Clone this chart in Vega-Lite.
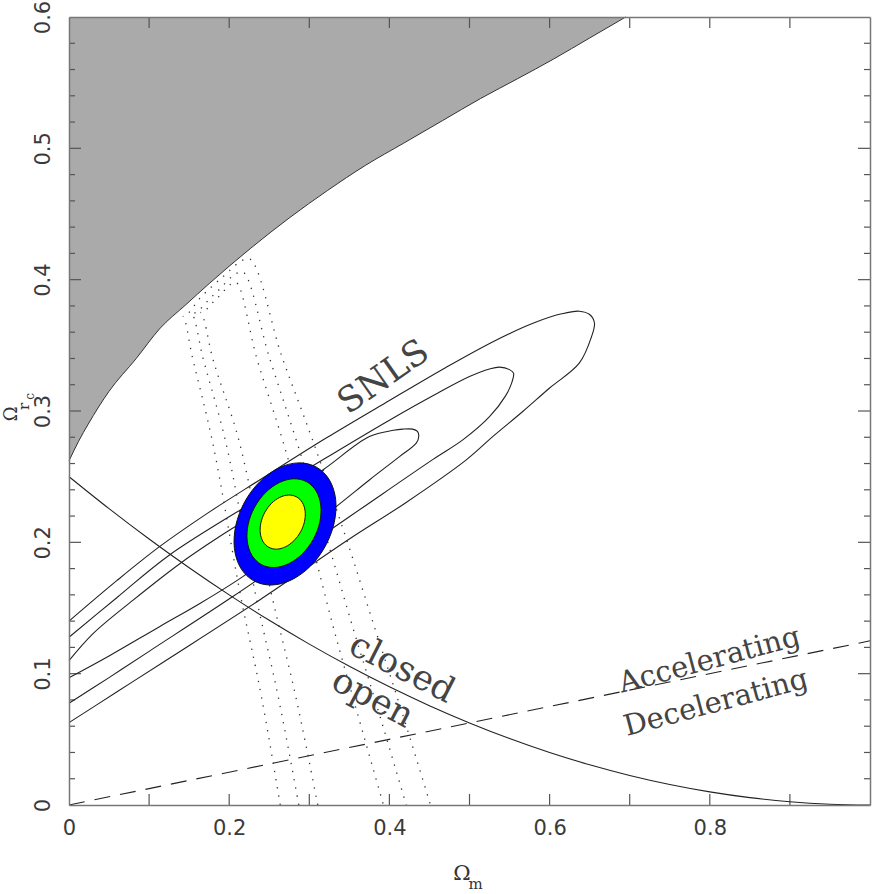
{
  "$schema": "https://vega.github.io/schema/vega-lite/v6.json",
  "width": 801,
  "height": 788,
  "autosize": {"type": "none"},
  "padding": {"left": 69, "top": 17, "right": 2, "bottom": 89},
  "background": "white",
  "config": {"view": {"stroke": null}},
  "datasets": {
    "gray": [
      {"x": 0, "y": 0.262}, {"x": 0.012, "y": 0.277}, {"x": 0.024, "y": 0.29}, {"x": 0.05, "y": 0.315},
      {"x": 0.084, "y": 0.34}, {"x": 0.113, "y": 0.3625}, {"x": 0.146, "y": 0.381}, {"x": 0.175, "y": 0.397},
      {"x": 0.227, "y": 0.424}, {"x": 0.275, "y": 0.447}, {"x": 0.323, "y": 0.468}, {"x": 0.37, "y": 0.487},
      {"x": 0.418, "y": 0.504}, {"x": 0.466, "y": 0.521}, {"x": 0.514, "y": 0.538}, {"x": 0.56, "y": 0.553},
      {"x": 0.605, "y": 0.568}, {"x": 0.65, "y": 0.584}, {"x": 0.695, "y": 0.6}
    ],
    "flat": [
      {"x": 0, "y": 0.25}, {"x": 0.05, "y": 0.225625}, {"x": 0.1, "y": 0.2025}, {"x": 0.15, "y": 0.180625},
      {"x": 0.2, "y": 0.16}, {"x": 0.25, "y": 0.140625}, {"x": 0.3, "y": 0.1225}, {"x": 0.35, "y": 0.105625},
      {"x": 0.4, "y": 0.09}, {"x": 0.45, "y": 0.075625}, {"x": 0.5, "y": 0.0625}, {"x": 0.55, "y": 0.050625},
      {"x": 0.6, "y": 0.04}, {"x": 0.65, "y": 0.030625}, {"x": 0.7, "y": 0.0225}, {"x": 0.75, "y": 0.015625},
      {"x": 0.8, "y": 0.01}, {"x": 0.85, "y": 0.005625}, {"x": 0.9, "y": 0.0025}, {"x": 0.95, "y": 0.000625},
      {"x": 1.0, "y": 0}
    ],
    "accel": [{"x": 0, "y": 0}, {"x": 1, "y": 0.125}],
    "xticks": [{"v": 0.1}, {"v": 0.2}, {"v": 0.3}, {"v": 0.4}, {"v": 0.5}, {"v": 0.6}, {"v": 0.7}, {"v": 0.8}, {"v": 0.9}],
    "ymajor": [{"v": 0.1}, {"v": 0.2}, {"v": 0.3}, {"v": 0.4}, {"v": 0.5}],
    "yminor": [
      {"v": 0.02}, {"v": 0.04}, {"v": 0.06}, {"v": 0.08}, {"v": 0.12}, {"v": 0.14}, {"v": 0.16}, {"v": 0.18},
      {"v": 0.22}, {"v": 0.24}, {"v": 0.26}, {"v": 0.28}, {"v": 0.32}, {"v": 0.34}, {"v": 0.36}, {"v": 0.38},
      {"v": 0.42}, {"v": 0.44}, {"v": 0.46}, {"v": 0.48}, {"v": 0.52}, {"v": 0.54}, {"v": 0.56}, {"v": 0.58}
    ],
    "snls": [
      {"c": 3, "i": 0, "x": 0, "y": 0.14}, {"c": 3, "i": 1, "x": 0.06, "y": 0.171}, {"c": 3, "i": 2, "x": 0.113, "y": 0.1967},
      {"c": 3, "i": 3, "x": 0.175, "y": 0.223}, {"c": 3, "i": 4, "x": 0.238, "y": 0.2475}, {"c": 3, "i": 5, "x": 0.32, "y": 0.279},
      {"c": 3, "i": 6, "x": 0.4, "y": 0.308}, {"c": 3, "i": 7, "x": 0.47, "y": 0.333}, {"c": 3, "i": 8, "x": 0.53, "y": 0.353},
      {"c": 3, "i": 9, "x": 0.58, "y": 0.367}, {"c": 3, "i": 10, "x": 0.615, "y": 0.374}, {"c": 3, "i": 11, "x": 0.637, "y": 0.376},
      {"c": 3, "i": 12, "x": 0.65, "y": 0.3735}, {"c": 3, "i": 13, "x": 0.656, "y": 0.367}, {"c": 3, "i": 14, "x": 0.652, "y": 0.356},
      {"c": 3, "i": 15, "x": 0.637, "y": 0.3364}, {"c": 3, "i": 16, "x": 0.6, "y": 0.3175}, {"c": 3, "i": 17, "x": 0.5665, "y": 0.2996},
      {"c": 3, "i": 18, "x": 0.53, "y": 0.281}, {"c": 3, "i": 19, "x": 0.496, "y": 0.2628}, {"c": 3, "i": 20, "x": 0.42, "y": 0.23},
      {"c": 3, "i": 21, "x": 0.35, "y": 0.2025}, {"c": 3, "i": 22, "x": 0.238, "y": 0.1561}, {"c": 3, "i": 23, "x": 0.12, "y": 0.1097},
      {"c": 3, "i": 24, "x": 0.06, "y": 0.0862}, {"c": 3, "i": 25, "x": 0, "y": 0.0627},
      {"c": 2, "i": 0, "x": 0, "y": 0.1277}, {"c": 2, "i": 1, "x": 0.06, "y": 0.158}, {"c": 2, "i": 2, "x": 0.1255, "y": 0.1904},
      {"c": 2, "i": 3, "x": 0.238, "y": 0.2336}, {"c": 2, "i": 4, "x": 0.32, "y": 0.264}, {"c": 2, "i": 5, "x": 0.4, "y": 0.293},
      {"c": 2, "i": 6, "x": 0.46, "y": 0.3135}, {"c": 2, "i": 7, "x": 0.5, "y": 0.3262}, {"c": 2, "i": 8, "x": 0.525, "y": 0.332},
      {"c": 2, "i": 9, "x": 0.5375, "y": 0.3334}, {"c": 2, "i": 10, "x": 0.55, "y": 0.3315}, {"c": 2, "i": 11, "x": 0.555, "y": 0.3288},
      {"c": 2, "i": 12, "x": 0.553, "y": 0.322}, {"c": 2, "i": 13, "x": 0.545, "y": 0.3115}, {"c": 2, "i": 14, "x": 0.525, "y": 0.2957},
      {"c": 2, "i": 15, "x": 0.4916, "y": 0.278}, {"c": 2, "i": 16, "x": 0.454, "y": 0.263}, {"c": 2, "i": 17, "x": 0.35, "y": 0.2195},
      {"c": 2, "i": 18, "x": 0.2045, "y": 0.1587}, {"c": 2, "i": 19, "x": 0.1, "y": 0.117}, {"c": 2, "i": 20, "x": 0.05, "y": 0.097},
      {"c": 2, "i": 21, "x": 0, "y": 0.0775},
      {"c": 1, "i": 0, "x": 0, "y": 0.1099}, {"c": 1, "i": 1, "x": 0.03, "y": 0.1305}, {"c": 1, "i": 2, "x": 0.08, "y": 0.156},
      {"c": 1, "i": 3, "x": 0.14, "y": 0.1845}, {"c": 1, "i": 4, "x": 0.188, "y": 0.2044}, {"c": 1, "i": 5, "x": 0.25, "y": 0.228},
      {"c": 1, "i": 6, "x": 0.3169, "y": 0.2551}, {"c": 1, "i": 7, "x": 0.375, "y": 0.2805}, {"c": 1, "i": 8, "x": 0.405, "y": 0.2853},
      {"c": 1, "i": 9, "x": 0.4167, "y": 0.2862}, {"c": 1, "i": 10, "x": 0.429, "y": 0.2862}, {"c": 1, "i": 11, "x": 0.435, "y": 0.2845},
      {"c": 1, "i": 12, "x": 0.4367, "y": 0.281}, {"c": 1, "i": 13, "x": 0.4335, "y": 0.2755}, {"c": 1, "i": 14, "x": 0.4126, "y": 0.2653},
      {"c": 1, "i": 15, "x": 0.375, "y": 0.2475}, {"c": 1, "i": 16, "x": 0.3336, "y": 0.2272}, {"c": 1, "i": 17, "x": 0.275, "y": 0.2},
      {"c": 1, "i": 18, "x": 0.217, "y": 0.1739}, {"c": 1, "i": 19, "x": 0.165, "y": 0.154}, {"c": 1, "i": 20, "x": 0.113, "y": 0.1358},
      {"c": 1, "i": 21, "x": 0.05, "y": 0.1135}, {"c": 1, "i": 22, "x": 0, "y": 0.0969}
    ],
    "dots": [
      {"c": 1, "i": 0, "x": 0.2637, "y": 0}, {"c": 1, "i": 1, "x": 0.241, "y": 0.08}, {"c": 1, "i": 2, "x": 0.214, "y": 0.16},
      {"c": 1, "i": 3, "x": 0.1795, "y": 0.2755}, {"c": 1, "i": 4, "x": 0.154, "y": 0.341}, {"c": 1, "i": 5, "x": 0.142, "y": 0.372},
      {"c": 1, "i": 6, "x": 0.165, "y": 0.387}, {"c": 1, "i": 7, "x": 0.19, "y": 0.401}, {"c": 1, "i": 8, "x": 0.224, "y": 0.416},
      {"c": 1, "i": 9, "x": 0.266, "y": 0.341}, {"c": 1, "i": 10, "x": 0.304, "y": 0.278}, {"c": 1, "i": 11, "x": 0.353, "y": 0.19},
      {"c": 1, "i": 12, "x": 0.379, "y": 0.14}, {"c": 1, "i": 13, "x": 0.416, "y": 0.07}, {"c": 1, "i": 14, "x": 0.4513, "y": 0},
      {"c": 2, "i": 0, "x": 0.2869, "y": 0}, {"c": 2, "i": 1, "x": 0.262, "y": 0.08}, {"c": 2, "i": 2, "x": 0.233, "y": 0.16},
      {"c": 2, "i": 3, "x": 0.196, "y": 0.2755}, {"c": 2, "i": 4, "x": 0.167, "y": 0.341}, {"c": 2, "i": 5, "x": 0.153, "y": 0.374},
      {"c": 2, "i": 6, "x": 0.18, "y": 0.388}, {"c": 2, "i": 7, "x": 0.216, "y": 0.406}, {"c": 2, "i": 8, "x": 0.25, "y": 0.341},
      {"c": 2, "i": 9, "x": 0.2836, "y": 0.278}, {"c": 2, "i": 10, "x": 0.328, "y": 0.19}, {"c": 2, "i": 11, "x": 0.352, "y": 0.14},
      {"c": 2, "i": 12, "x": 0.387, "y": 0.07}, {"c": 2, "i": 13, "x": 0.421, "y": 0},
      {"c": 3, "i": 0, "x": 0.3106, "y": 0}, {"c": 3, "i": 1, "x": 0.284, "y": 0.08}, {"c": 3, "i": 2, "x": 0.253, "y": 0.16},
      {"c": 3, "i": 3, "x": 0.213, "y": 0.2755}, {"c": 3, "i": 4, "x": 0.179, "y": 0.341}, {"c": 3, "i": 5, "x": 0.164, "y": 0.375},
      {"c": 3, "i": 6, "x": 0.185, "y": 0.386}, {"c": 3, "i": 7, "x": 0.208, "y": 0.398}, {"c": 3, "i": 8, "x": 0.234, "y": 0.341},
      {"c": 3, "i": 9, "x": 0.2665, "y": 0.278}, {"c": 3, "i": 10, "x": 0.307, "y": 0.19}, {"c": 3, "i": 11, "x": 0.328, "y": 0.14},
      {"c": 3, "i": 12, "x": 0.36, "y": 0.07}, {"c": 3, "i": 13, "x": 0.3926, "y": 0}
    ],
    "ell": [
      {"e": "blue", "i": 0, "x": 0.3087, "y": 0.2573}, {"e": "blue", "i": 1, "x": 0.325, "y": 0.2476}, {"e": "blue", "i": 2, "x": 0.3329, "y": 0.2327},
      {"e": "blue", "i": 3, "x": 0.3311, "y": 0.215}, {"e": "blue", "i": 4, "x": 0.32, "y": 0.1971}, {"e": "blue", "i": 5, "x": 0.3013, "y": 0.1818},
      {"e": "blue", "i": 6, "x": 0.2777, "y": 0.1714}, {"e": "blue", "i": 7, "x": 0.2529, "y": 0.1675}, {"e": "blue", "i": 8, "x": 0.2307, "y": 0.1707},
      {"e": "blue", "i": 9, "x": 0.2144, "y": 0.1804}, {"e": "blue", "i": 10, "x": 0.2065, "y": 0.1953}, {"e": "blue", "i": 11, "x": 0.2083, "y": 0.213},
      {"e": "blue", "i": 12, "x": 0.2194, "y": 0.2309}, {"e": "blue", "i": 13, "x": 0.2382, "y": 0.2462}, {"e": "blue", "i": 14, "x": 0.2617, "y": 0.2566},
      {"e": "blue", "i": 15, "x": 0.2865, "y": 0.2605},
      {"e": "green", "i": 0, "x": 0.2968, "y": 0.2461}, {"e": "green", "i": 1, "x": 0.3086, "y": 0.239}, {"e": "green", "i": 2, "x": 0.3143, "y": 0.2282},
      {"e": "green", "i": 3, "x": 0.3131, "y": 0.2153}, {"e": "green", "i": 4, "x": 0.305, "y": 0.2023}, {"e": "green", "i": 5, "x": 0.2913, "y": 0.1912},
      {"e": "green", "i": 6, "x": 0.2742, "y": 0.1837}, {"e": "green", "i": 7, "x": 0.2562, "y": 0.1808}, {"e": "green", "i": 8, "x": 0.24, "y": 0.1831},
      {"e": "green", "i": 9, "x": 0.2282, "y": 0.1902}, {"e": "green", "i": 10, "x": 0.2225, "y": 0.201}, {"e": "green", "i": 11, "x": 0.2237, "y": 0.2139},
      {"e": "green", "i": 12, "x": 0.2318, "y": 0.2269}, {"e": "green", "i": 13, "x": 0.2455, "y": 0.238}, {"e": "green", "i": 14, "x": 0.2626, "y": 0.2455},
      {"e": "green", "i": 15, "x": 0.2806, "y": 0.2484},
      {"e": "yellow", "i": 0, "x": 0.2841, "y": 0.2346}, {"e": "yellow", "i": 1, "x": 0.2913, "y": 0.2303}, {"e": "yellow", "i": 2, "x": 0.2948, "y": 0.2237},
      {"e": "yellow", "i": 3, "x": 0.294, "y": 0.2158}, {"e": "yellow", "i": 4, "x": 0.2891, "y": 0.2079}, {"e": "yellow", "i": 5, "x": 0.2808, "y": 0.2012},
      {"e": "yellow", "i": 6, "x": 0.2703, "y": 0.1966}, {"e": "yellow", "i": 7, "x": 0.2594, "y": 0.1948}, {"e": "yellow", "i": 8, "x": 0.2495, "y": 0.1962},
      {"e": "yellow", "i": 9, "x": 0.2423, "y": 0.2005}, {"e": "yellow", "i": 10, "x": 0.2388, "y": 0.2071}, {"e": "yellow", "i": 11, "x": 0.2396, "y": 0.215},
      {"e": "yellow", "i": 12, "x": 0.2445, "y": 0.2229}, {"e": "yellow", "i": 13, "x": 0.2528, "y": 0.2297}, {"e": "yellow", "i": 14, "x": 0.2633, "y": 0.2343},
      {"e": "yellow", "i": 15, "x": 0.2742, "y": 0.236}
    ]
  },
  "resolve": {"axis": {"x": "independent", "y": "independent"}},
  "layer": [
    {
      "data": {"name": "gray"},
      "mark": {"type": "area", "color": "#aaaaaa", "interpolate": "monotone"},
      "encoding": {
        "x": {"field": "x", "type": "quantitative", "scale": {"domain": [0, 1], "nice": false, "zero": false},
          "axis": {"orient": "bottom", "values": [0, 0.2, 0.4, 0.6, 0.8], "ticks": false, "tickSize": 0,
            "labelExpr": "datum.value == 0 ? '0' : format(datum.value, '.1f')",
            "labelFlush": false, "labelOverlap": false, "labelPadding": 12, "labelFont": "DejaVu Sans", "labelFontSize": 21,
            "labelColor": "#3a3a3a", "domainColor": "#777777", "domainWidth": 1.5, "grid": false, "title": null, "zindex": 1}},
        "y": {"field": "y", "type": "quantitative", "scale": {"domain": [0, 0.6], "nice": false, "zero": false},
          "axis": {"orient": "left", "values": [0, 0.1, 0.2, 0.3, 0.4, 0.5, 0.6], "ticks": false, "tickSize": 0,
            "labelExpr": "datum.value == 0 ? '0' : format(datum.value, '.1f')",
            "labelAngle": -90, "labelAlign": "center", "labelBaseline": "bottom",
            "labelFlush": false, "labelOverlap": false, "labelPadding": 16, "labelFont": "DejaVu Sans", "labelFontSize": 21,
            "labelColor": "#3a3a3a", "domainColor": "#777777", "domainWidth": 1.5, "grid": false, "title": null, "zindex": 1}},
        "y2": {"datum": 0.6}
      }
    },
    {
      "data": {"name": "gray"},
      "mark": {"type": "line", "color": "#333333", "strokeWidth": 1, "interpolate": "monotone"},
      "encoding": {
        "x": {"field": "x", "type": "quantitative", "scale": {"domain": [0, 1], "nice": false, "zero": false},
          "axis": {"orient": "top", "values": [0.5], "ticks": false, "tickSize": 0, "labels": false,
            "domainColor": "#777777", "domainWidth": 1.5, "grid": false, "title": null, "zindex": 1}},
        "y": {"field": "y", "type": "quantitative", "scale": {"domain": [0, 0.6], "nice": false, "zero": false},
          "axis": {"orient": "right", "values": [0.3], "ticks": false, "tickSize": 0, "labels": false,
            "domainColor": "#777777", "domainWidth": 1.5, "grid": false, "title": null, "zindex": 1}}
      }
    },
    {
      "data": {"name": "xticks"},
      "mark": {"type": "rule", "color": "#555555", "strokeWidth": 1.2},
      "encoding": {"x": {"field": "v", "type": "quantitative", "scale": {"domain": [0, 1], "nice": false, "zero": false}, "axis": null},
        "y": {"datum": 0, "type": "quantitative", "scale": {"domain": [0, 0.6], "nice": false, "zero": false}, "axis": null}, "y2": {"datum": 0.0084}}
    },
    {
      "data": {"name": "xticks"},
      "mark": {"type": "rule", "color": "#555555", "strokeWidth": 1.2},
      "encoding": {"x": {"field": "v", "type": "quantitative", "scale": {"domain": [0, 1], "nice": false, "zero": false}, "axis": null},
        "y": {"datum": 0.6, "type": "quantitative", "scale": {"domain": [0, 0.6], "nice": false, "zero": false}, "axis": null}, "y2": {"datum": 0.5916}}
    },
    {
      "data": {"name": "ymajor"},
      "mark": {"type": "rule", "color": "#555555", "strokeWidth": 1.2},
      "encoding": {"y": {"field": "v", "type": "quantitative", "scale": {"domain": [0, 0.6], "nice": false, "zero": false}, "axis": null},
        "x": {"datum": 0, "type": "quantitative", "scale": {"domain": [0, 1], "nice": false, "zero": false}, "axis": null}, "x2": {"datum": 0.015}}
    },
    {
      "data": {"name": "ymajor"},
      "mark": {"type": "rule", "color": "#555555", "strokeWidth": 1.2},
      "encoding": {"y": {"field": "v", "type": "quantitative", "scale": {"domain": [0, 0.6], "nice": false, "zero": false}, "axis": null},
        "x": {"datum": 1, "type": "quantitative", "scale": {"domain": [0, 1], "nice": false, "zero": false}, "axis": null}, "x2": {"datum": 0.985}}
    },
    {
      "data": {"name": "yminor"},
      "mark": {"type": "rule", "color": "#555555", "strokeWidth": 1.2},
      "encoding": {"y": {"field": "v", "type": "quantitative", "scale": {"domain": [0, 0.6], "nice": false, "zero": false}, "axis": null},
        "x": {"datum": 0, "type": "quantitative", "scale": {"domain": [0, 1], "nice": false, "zero": false}, "axis": null}, "x2": {"datum": 0.0075}}
    },
    {
      "data": {"name": "yminor"},
      "mark": {"type": "rule", "color": "#555555", "strokeWidth": 1.2},
      "encoding": {"y": {"field": "v", "type": "quantitative", "scale": {"domain": [0, 0.6], "nice": false, "zero": false}, "axis": null},
        "x": {"datum": 1, "type": "quantitative", "scale": {"domain": [0, 1], "nice": false, "zero": false}, "axis": null}, "x2": {"datum": 0.9925}}
    },
    {
      "data": {"name": "flat"},
      "mark": {"type": "line", "color": "#222222", "strokeWidth": 1.1, "interpolate": "monotone"},
      "encoding": {
        "x": {"field": "x", "type": "quantitative", "scale": {"domain": [0, 1], "nice": false, "zero": false}, "axis": null},
        "y": {"field": "y", "type": "quantitative", "scale": {"domain": [0, 0.6], "nice": false, "zero": false}, "axis": null}
      }
    },
    {
      "data": {"name": "accel"},
      "mark": {"type": "line", "color": "#222222", "strokeWidth": 1.1, "strokeDash": [16, 10]},
      "encoding": {
        "x": {"field": "x", "type": "quantitative", "scale": {"domain": [0, 1], "nice": false, "zero": false}, "axis": null},
        "y": {"field": "y", "type": "quantitative", "scale": {"domain": [0, 0.6], "nice": false, "zero": false}, "axis": null}
      }
    },
    {
      "data": {"name": "dots"},
      "mark": {"type": "line", "color": "#333333", "strokeWidth": 1.3, "strokeDash": [1.3, 7], "interpolate": "monotone"},
      "encoding": {
        "x": {"field": "x", "type": "quantitative", "scale": {"domain": [0, 1], "nice": false, "zero": false}, "axis": null},
        "y": {"field": "y", "type": "quantitative", "scale": {"domain": [0, 0.6], "nice": false, "zero": false}, "axis": null},
        "detail": {"field": "c"}, "order": {"field": "i", "type": "quantitative"}
      }
    },
    {
      "data": {"name": "snls"},
      "mark": {"type": "line", "color": "#222222", "strokeWidth": 1.1, "interpolate": "catmull-rom"},
      "encoding": {
        "x": {"field": "x", "type": "quantitative", "scale": {"domain": [0, 1], "nice": false, "zero": false}, "axis": null},
        "y": {"field": "y", "type": "quantitative", "scale": {"domain": [0, 0.6], "nice": false, "zero": false}, "axis": null},
        "detail": {"field": "c"}, "order": {"field": "i", "type": "quantitative"}
      }
    },
    {
      "data": {"name": "ell"},
      "transform": [{"filter": "datum.e == 'blue'"}],
      "mark": {"type": "line", "interpolate": "cardinal-closed", "fill": "#0000ff", "stroke": "#111111", "strokeWidth": 1},
      "encoding": {
        "x": {"field": "x", "type": "quantitative", "scale": {"domain": [0, 1], "nice": false, "zero": false}, "axis": null},
        "y": {"field": "y", "type": "quantitative", "scale": {"domain": [0, 0.6], "nice": false, "zero": false}, "axis": null},
        "order": {"field": "i", "type": "quantitative"}
      }
    },
    {
      "data": {"name": "ell"},
      "transform": [{"filter": "datum.e == 'green'"}],
      "mark": {"type": "line", "interpolate": "cardinal-closed", "fill": "#00ff00", "stroke": "#111111", "strokeWidth": 1},
      "encoding": {
        "x": {"field": "x", "type": "quantitative", "scale": {"domain": [0, 1], "nice": false, "zero": false}, "axis": null},
        "y": {"field": "y", "type": "quantitative", "scale": {"domain": [0, 0.6], "nice": false, "zero": false}, "axis": null},
        "order": {"field": "i", "type": "quantitative"}
      }
    },
    {
      "data": {"name": "ell"},
      "transform": [{"filter": "datum.e == 'yellow'"}],
      "mark": {"type": "line", "interpolate": "cardinal-closed", "fill": "#ffff00", "stroke": "#111111", "strokeWidth": 1},
      "encoding": {
        "x": {"field": "x", "type": "quantitative", "scale": {"domain": [0, 1], "nice": false, "zero": false}, "axis": null},
        "y": {"field": "y", "type": "quantitative", "scale": {"domain": [0, 0.6], "nice": false, "zero": false}, "axis": null},
        "order": {"field": "i", "type": "quantitative"}
      }
    },
    {
      "data": {"values": [{"x": 0.3926, "y": 0.326, "t": "SNLS"}]},
      "mark": {"type": "text", "font": "DejaVu Serif", "fontSize": 35, "angle": -35, "color": "#444444", "align": "center", "baseline": "middle"},
      "encoding": {
        "x": {"field": "x", "type": "quantitative", "scale": {"domain": [0, 1], "nice": false, "zero": false}, "axis": null},
        "y": {"field": "y", "type": "quantitative", "scale": {"domain": [0, 0.6], "nice": false, "zero": false}, "axis": null},
        "text": {"field": "t"}
      }
    },
    {
      "data": {"values": [{"x": 0.4157, "y": 0.1043, "t": "closed"}]},
      "mark": {"type": "text", "font": "DejaVu Serif", "fontSize": 35, "angle": 27, "color": "#444444", "align": "center", "baseline": "middle"},
      "encoding": {
        "x": {"field": "x", "type": "quantitative", "scale": {"domain": [0, 1], "nice": false, "zero": false}, "axis": null},
        "y": {"field": "y", "type": "quantitative", "scale": {"domain": [0, 0.6], "nice": false, "zero": false}, "axis": null},
        "text": {"field": "t"}
      }
    },
    {
      "data": {"values": [{"x": 0.3793, "y": 0.0813, "t": "open"}]},
      "mark": {"type": "text", "font": "DejaVu Serif", "fontSize": 35, "angle": 28, "color": "#444444", "align": "center", "baseline": "middle"},
      "encoding": {
        "x": {"field": "x", "type": "quantitative", "scale": {"domain": [0, 1], "nice": false, "zero": false}, "axis": null},
        "y": {"field": "y", "type": "quantitative", "scale": {"domain": [0, 0.6], "nice": false, "zero": false}, "axis": null},
        "text": {"field": "t"}
      }
    },
    {
      "data": {"values": [{"x": 0.7996, "y": 0.1104, "t": "Accelerating"}, {"x": 0.8076, "y": 0.0779, "t": "Decelerating"}]},
      "mark": {"type": "text", "font": "DejaVu Serif", "fontSize": 29, "angle": -15, "color": "#444444", "align": "center", "baseline": "middle"},
      "encoding": {
        "x": {"field": "x", "type": "quantitative", "scale": {"domain": [0, 1], "nice": false, "zero": false}, "axis": null},
        "y": {"field": "y", "type": "quantitative", "scale": {"domain": [0, 0.6], "nice": false, "zero": false}, "axis": null},
        "text": {"field": "t"}
      }
    },
    {
      "data": {"values": [{"x": 0.4906, "y": -0.0526, "t": "Ω"}]},
      "mark": {"type": "text", "font": "DejaVu Serif", "fontSize": 21, "color": "#333333", "align": "center", "baseline": "middle"},
      "encoding": {
        "x": {"field": "x", "type": "quantitative", "scale": {"domain": [0, 1], "nice": false, "zero": false}, "axis": null},
        "y": {"field": "y", "type": "quantitative", "scale": {"domain": [0, 0.6], "nice": false, "zero": false}, "axis": null},
        "text": {"field": "t"}
      }
    },
    {
      "data": {"values": [{"x": 0.5075, "y": -0.0605, "t": "m"}]},
      "mark": {"type": "text", "font": "DejaVu Serif", "fontSize": 15, "color": "#333333", "align": "center", "baseline": "middle"},
      "encoding": {
        "x": {"field": "x", "type": "quantitative", "scale": {"domain": [0, 1], "nice": false, "zero": false}, "axis": null},
        "y": {"field": "y", "type": "quantitative", "scale": {"domain": [0, 0.6], "nice": false, "zero": false}, "axis": null},
        "text": {"field": "t"}
      }
    },
    {
      "data": {"values": [{"x": -0.0715, "y": 0.2978, "t": "Ω"}]},
      "mark": {"type": "text", "font": "DejaVu Serif", "fontSize": 18, "angle": -90, "color": "#333333", "align": "center", "baseline": "middle"},
      "encoding": {
        "x": {"field": "x", "type": "quantitative", "scale": {"domain": [0, 1], "nice": false, "zero": false}, "axis": null},
        "y": {"field": "y", "type": "quantitative", "scale": {"domain": [0, 0.6], "nice": false, "zero": false}, "axis": null},
        "text": {"field": "t"}
      }
    },
    {
      "data": {"values": [{"x": -0.0565, "y": 0.3034, "t": "r"}]},
      "mark": {"type": "text", "font": "DejaVu Serif", "fontSize": 15, "angle": -90, "color": "#333333", "align": "center", "baseline": "middle"},
      "encoding": {
        "x": {"field": "x", "type": "quantitative", "scale": {"domain": [0, 1], "nice": false, "zero": false}, "axis": null},
        "y": {"field": "y", "type": "quantitative", "scale": {"domain": [0, 0.6], "nice": false, "zero": false}, "axis": null},
        "text": {"field": "t"}
      }
    },
    {
      "data": {"values": [{"x": -0.0482, "y": 0.3111, "t": "c"}]},
      "mark": {"type": "text", "font": "DejaVu Serif", "fontSize": 12, "angle": -90, "color": "#333333", "align": "center", "baseline": "middle"},
      "encoding": {
        "x": {"field": "x", "type": "quantitative", "scale": {"domain": [0, 1], "nice": false, "zero": false}, "axis": null},
        "y": {"field": "y", "type": "quantitative", "scale": {"domain": [0, 0.6], "nice": false, "zero": false}, "axis": null},
        "text": {"field": "t"}
      }
    }
  ]
}
